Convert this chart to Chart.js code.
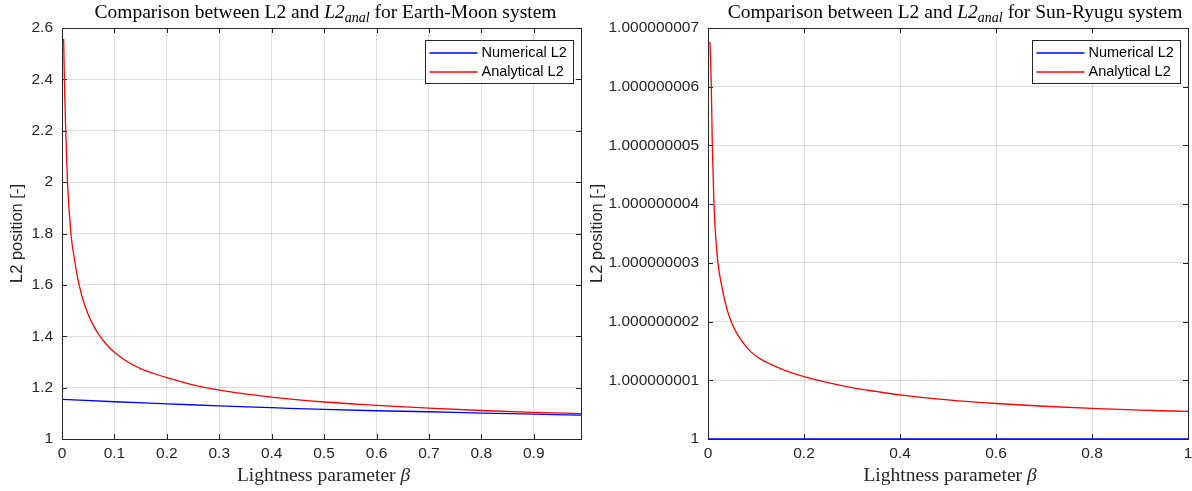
<!DOCTYPE html>
<html>
<head>
<meta charset="utf-8">
<title>L2 comparison</title>
<script src="https://cdn.jsdelivr.net/npm/chart.js@4.4.0/dist/chart.umd.min.js"></script>
<style>
  body { margin: 0; background: #fff; }
  canvas { position: absolute; left: 0; top: 0; }
</style>
</head>
<body>
<canvas id="emChart" width="1192" height="491"></canvas>
<canvas id="srChart" width="1192" height="491"></canvas>
<script>
// Earth-Moon system
var betaNumEM = [0, 0.1, 0.2, 0.3, 0.4, 0.5, 0.6, 0.7, 0.8, 0.9, 0.99];
var numEM = [1.154, 1.145, 1.137, 1.129, 1.122, 1.115, 1.110, 1.106, 1.101, 1.097, 1.093];
var betaAnEM = [0.0032, 0.0045, 0.0071, 0.0105, 0.017, 0.0245, 0.032, 0.044, 0.057, 0.071, 0.085, 0.1, 0.125, 0.154, 0.175, 0.2, 0.25, 0.3, 0.4, 0.5, 0.6, 0.7, 0.8, 0.9, 0.99];
var anEM = [2.557, 2.4, 2.2, 2.0, 1.8, 1.69, 1.605, 1.517, 1.453, 1.404, 1.368, 1.338, 1.301, 1.27, 1.255, 1.239, 1.211, 1.19, 1.163, 1.144, 1.131, 1.12, 1.111, 1.104, 1.099];
var xTicksEM = [0, 0.1, 0.2, 0.3, 0.4, 0.5, 0.6, 0.7, 0.8, 0.9];
var yTicksEM = [1, 1.2, 1.4, 1.6, 1.8, 2, 2.2, 2.4, 2.6];
var xLabelsEM = ['0', '0.1', '0.2', '0.3', '0.4', '0.5', '0.6', '0.7', '0.8', '0.9'];
var yLabelsEM = ['1', '1.2', '1.4', '1.6', '1.8', '2', '2.2', '2.4', '2.6'];

// Sun-Ryugu system
var betaNumSR = [0, 0.25, 0.5, 0.75, 1];
var numSR = [1, 1, 1, 1, 1];
var betaAnSR = [0.0041, 0.0069, 0.009, 0.0124, 0.016, 0.0207, 0.03, 0.04, 0.0483, 0.06, 0.075, 0.09, 0.11, 0.13, 0.16, 0.2, 0.25, 0.3, 0.35, 0.4, 0.5, 0.6, 0.7, 0.8, 0.9, 1.0];
var anSR = [1.00000000676, 1.000000006, 1.000000005, 1.000000004, 1.00000000345, 1.000000003, 1.00000000255, 1.0000000022, 1.000000002, 1.0000000018, 1.00000000162, 1.00000000148, 1.00000000136, 1.000000001275, 1.00000000117, 1.000000001063, 1.00000000096, 1.000000000875, 1.00000000081, 1.000000000751, 1.000000000667, 1.000000000605, 1.000000000558, 1.000000000522, 1.000000000493, 1.000000000469];
var xTicksSR = [0, 0.2, 0.4, 0.6, 0.8, 1];
var yTicksSR = [1, 1.000000001, 1.000000002, 1.000000003, 1.000000004, 1.000000005, 1.000000006, 1.000000007];
var xLabelsSR = ['0', '0.2', '0.4', '0.6', '0.8', '1'];
var yLabelsSR = ['1', '1.000000001', '1.000000002', '1.000000003', '1.000000004', '1.000000005', '1.000000006', '1.000000007'];

var seriesColors = ['#0000ff', '#ff0000'];
var axisColor = '#262626';
var serif = '"Liberation Serif", "Times New Roman", serif';
var sans = '"Liberation Sans", Arial, sans-serif';

Chart.defaults.font.family = sans;
Chart.defaults.color = axisColor;

function pts(xs, ys) {
  return xs.map(function (x, i) { return { x: x, y: ys[i] }; });
}

function drawParts(ctx, parts, cx, y) {
  var w = 0;
  parts.forEach(function (p) { ctx.font = p.font; p.w = ctx.measureText(p.t).width; w += p.w; });
  var x = cx - w / 2;
  parts.forEach(function (p) {
    ctx.font = p.font;
    ctx.fillText(p.t, x, y + (p.dy || 0));
    x += p.w;
  });
}

// box, inner ticks, titles and legend drawn like the MATLAB figure
var framePlugin = {
  id: 'frame',
  beforeDatasetsDraw: function (chart, args, opts) {
    var ctx = chart.ctx, a = chart.chartArea;
    var xs = chart.scales.x, ys = chart.scales.y;
    ctx.save();
    ctx.strokeStyle = axisColor;
    ctx.lineWidth = 1;
    ctx.beginPath();
    xs.ticks.forEach(function (t) {
      var px = Math.round(xs.getPixelForValue(t.value)) + 0.5;
      ctx.moveTo(px, a.bottom); ctx.lineTo(px, a.bottom - 5);
      ctx.moveTo(px, a.top); ctx.lineTo(px, a.top + 5);
    });
    ys.ticks.forEach(function (t) {
      var py = Math.round(ys.getPixelForValue(t.value)) + 0.5;
      ctx.moveTo(a.left, py); ctx.lineTo(a.left + 5, py);
      ctx.moveTo(a.right, py); ctx.lineTo(a.right - 5, py);
    });
    ctx.stroke();
    ctx.strokeRect(Math.round(a.left) + 0.5, Math.round(a.top) + 0.5,
      Math.round(a.right - a.left), Math.round(a.bottom - a.top));
    ctx.restore();
  },
  afterDraw: function (chart, args, opts) {
    var ctx = chart.ctx, a = chart.chartArea;
    var cx = (a.left + a.right) / 2;
    ctx.save();
    ctx.fillStyle = '#000';
    ctx.textBaseline = 'alphabetic';
    ctx.textAlign = 'left';
    drawParts(ctx, [
      { t: 'Comparison between L2 and ', font: '19.5px ' + serif },
      { t: 'L2', font: 'italic 19.5px ' + serif },
      { t: 'anal', font: 'italic 14px ' + serif, dy: 4 },
      { t: ' for ' + opts.system + ' system', font: '19.5px ' + serif }
    ], cx + opts.titleDx, 18);
    ctx.fillStyle = axisColor;
    drawParts(ctx, [
      { t: 'Lightness parameter ', font: '19.5px ' + serif },
      { t: 'β', font: 'italic 19.5px ' + serif }
    ], cx + 2, 481);

    ctx.save();
    ctx.translate(opts.yTitleX, (a.top + a.bottom) / 2);
    ctx.rotate(-Math.PI / 2);
    ctx.textAlign = 'center';
    ctx.textBaseline = 'middle';
    ctx.font = '16.5px ' + sans;
    ctx.fillText('L2 position [-]', 0, 0);
    ctx.restore();

    // legend box
    var bw = 148, bh = 43;
    var bx = Math.round(a.right - 8 - bw) + 0.5, by = Math.round(a.top + 12) + 0.5;
    ctx.fillStyle = '#fff';
    ctx.fillRect(bx, by, bw, bh);
    ctx.strokeStyle = axisColor;
    ctx.lineWidth = 1;
    ctx.strokeRect(bx, by, bw, bh);
    ctx.font = '14.5px ' + sans;
    ctx.textBaseline = 'middle';
    ctx.textAlign = 'left';
    chart.data.datasets.forEach(function (ds, i) {
      var ry = by + 12.5 + i * 19;
      ctx.strokeStyle = seriesColors[i];
      ctx.lineWidth = 1.4;
      ctx.beginPath();
      ctx.moveTo(bx + 4, ry); ctx.lineTo(bx + 52, ry);
      ctx.stroke();
      ctx.fillStyle = '#000';
      ctx.fillText(ds.label, bx + 56, ry);
    });
    ctx.restore();
  }
};

function makeChart(id, cfg) {
  return new Chart(id, {
    type: 'line',
    data: {
      datasets: [{
        label: 'Numerical L2',
        data: pts(cfg.betaNum, cfg.num),
        borderColor: seriesColors[0],
        borderWidth: 1.3,
        pointRadius: 0,
        fill: false,
        cubicInterpolationMode: 'monotone'
      }, {
        label: 'Analytical L2',
        data: pts(cfg.betaAn, cfg.an),
        borderColor: seriesColors[1],
        borderWidth: 1.3,
        pointRadius: 0,
        fill: false,
        cubicInterpolationMode: 'monotone'
      }]
    },
    options: {
      responsive: false,
      animation: false,
      layout: { padding: cfg.padding },
      plugins: {
        legend: { display: false },
        title: { display: false },
        tooltip: { enabled: false },
        frame: { system: cfg.system, yTitleX: cfg.yTitleX, titleDx: cfg.titleDx }
      },
      scales: {
        x: {
          type: 'linear',
          min: 0,
          max: cfg.xMax,
          border: { display: false },
          grid: { color: 'rgba(38,38,38,0.15)', drawTicks: false },
          ticks: {
            padding: 5,
            font: { size: 15.5 },
            color: axisColor,
            maxRotation: 0,
            callback: function (v, i) { return cfg.xLabels[i]; }
          },
          afterBuildTicks: function (s) { s.ticks = cfg.xTicks.map(function (v) { return { value: v }; }); },
          afterFit: function (s) { s.height = 52; s.paddingLeft = 0; s.paddingRight = 0; }
        },
        y: {
          type: 'linear',
          min: cfg.yMin,
          max: cfg.yMax,
          border: { display: false },
          grid: { color: 'rgba(38,38,38,0.15)', drawTicks: false },
          ticks: {
            padding: 9,
            font: { size: 15.5 },
            color: axisColor,
            callback: function (v, i) { return cfg.yLabels[i]; }
          },
          afterBuildTicks: function (s) { s.ticks = cfg.yTicks.map(function (v) { return { value: v }; }); },
          afterFit: function (s) { s.width = cfg.yWidth; s.paddingTop = 0; s.paddingBottom = 0; }
        }
      }
    },
    plugins: [framePlugin]
  });
}

makeChart('emChart', {
  system: 'Earth-Moon',
  betaNum: betaNumEM, num: numEM, betaAn: betaAnEM, an: anEM,
  xTicks: xTicksEM, xLabels: xLabelsEM, yTicks: yTicksEM, yLabels: yLabelsEM,
  xMax: 0.99, yMin: 1, yMax: 2.6,
  yWidth: 62, yTitleX: 17, titleDx: 4,
  padding: { top: 28, left: 0, right: 611, bottom: 0 }
});

makeChart('srChart', {
  system: 'Sun-Ryugu',
  betaNum: betaNumSR, num: numSR, betaAn: betaAnSR, an: anSR,
  xTicks: xTicksSR, xLabels: xLabelsSR, yTicks: yTicksSR, yLabels: yLabelsSR,
  xMax: 1, yMin: 1, yMax: 1.000000007,
  yWidth: 118, yTitleX: 597, titleDx: 7,
  padding: { top: 28, left: 590, right: 4, bottom: 0 }
});
</script>
</body>
</html>
